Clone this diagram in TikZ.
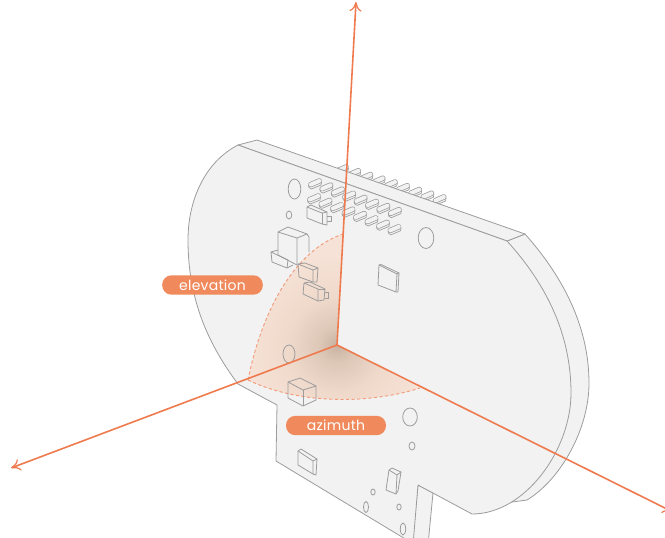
\documentclass[tikz,border=0pt]{standalone}
\usepackage{fontspec}
\setmainfont[LetterSpace=2]{Poppins}
\usetikzlibrary{arrows.meta}
\definecolor{axis}{HTML}{EE7A4E}
\definecolor{pill}{HTML}{F08A5D}
\definecolor{board}{HTML}{F2F2F2}
\definecolor{edgeg}{HTML}{9C9C9C}
\definecolor{secl}{HTML}{F6E2D6}
\definecolor{secm}{HTML}{EFD9CB}
\definecolor{secn}{HTML}{DDC7B7}
\definecolor{secd}{HTML}{C8B3A2}
\pgfdeclareradialshading{sect}{\pgfpoint{0bp}{0bp}}{color(0bp)=(secd); color(3bp)=(secn); color(8bp)=(secm); color(15bp)=(secl); color(50bp)=(secl)}
\tikzset{
 ln/.style={draw=edgeg,line width=0.6pt,line join=round},
 part/.style={ln,fill=board},
 ax/.style={draw=axis,line width=1.2pt},
 axarrow/.style={ax,-{To[length=7pt,width=9pt,line width=0.9pt]}},
 pillnode/.style={fill=pill,rounded corners=7pt,text=white,inner sep=0pt,minimum height=14.5pt,font=\fontsize{10.5}{12}\selectfont,align=center},
 arcd/.style={draw=axis!75,line width=0.7pt,dash pattern=on 2.4pt off 1.8pt},
 pinbody/.style={draw=edgeg,line width=0.55pt,double=board,double distance=3pt,line cap=round}
}
\newcommand{\pinat}[2]{%
 \draw[ln,line width=0.5pt,line cap=round,fill=board] (#1-6.5,#2+2) -- (#1-6,#2+4.5) -- (#1-3.5,#2+6) -- (#1+6,#2+2) -- (#1+6.5,#2-1);
 \draw[pinbody] (#1-4.2,#2+1.6) -- (#1+4.2,#2-2);
}
\begin{document}
\begin{tikzpicture}[x=0.75pt,y=-0.75pt]
\useasboundingbox (0,0) rectangle (665,537);
\clip (0,0) rectangle (665,537);
% back side band
\path[part] (507,241) -- (525,234) .. controls (566,280) and (589,330) .. (589,383) .. controls (589,430) and (560,480) .. (527,500) -- (490,505) -- cycle;
% stem side
\path[part] (418,485) -- (433,493) -- (428,545) -- (412,545) -- cycle;
% top pins behind the board edge
\foreach \i in {0,...,8}{
 \pgfmathsetmacro{\px}{342+\i*12.2}
 \pgfmathsetmacro{\py}{169+\i*3.75}
 \pinat{\px}{\py}
}
% top strip and front face
\path[part] (238,145) -- (257,140) -- (525,234) -- (507,241) -- cycle;
\path[part] (238,145) -- (507,241) .. controls (547,285) and (571,335) .. (571,393) .. controls (571,450) and (525,514) .. (472,514)
 -- (418,485) -- (413,545) -- (412,543) -- (276,461) -- (277,405) -- (238,384) .. controls (205,340) and (188,295) .. (188,240) .. controls (188,200) and (205,162) .. (238,145) -- cycle;
% holes
\draw[ln] (294.5,189) ellipse (6.3 and 10);
\draw[ln] (289,215) ellipse (2.8 and 4);
\draw[ln] (426,238) ellipse (7.8 and 10.5);
\draw[ln] (410,417) ellipse (7.3 and 9);
\draw[ln] (412,446) ellipse (3 and 4);
\draw[ln] (373,492) ellipse (2.2 and 3);
\draw[ln] (399,507) ellipse (2.2 and 3);
\draw[ln] (366,507) ellipse (2.5 and 5.5);
\draw[ln] (403,529) ellipse (2.7 and 6);
% sector
\begin{scope}
\clip (337,345) -- (248,380) .. controls (262,310) and (295,250) .. (343,234) -- cycle;
\shade[shading=sect] (337,345) circle (150);
\end{scope}
\begin{scope}
\clip (337,345) -- (248,380) .. controls (300,405) and (370,404) .. (420,388) -- cycle;
\shade[shading=sect] (337,345) circle (150);
\end{scope}
\draw[arcd] (248,380) .. controls (262,310) and (295,250) .. (343,234);
\draw[arcd] (248,380) .. controls (300,405) and (370,404) .. (420,388);
\draw[ln] (289,354) ellipse (6 and 9);
% header pins
\foreach \i in {0,...,7}{
 \pgfmathsetmacro{\px}{315+\i*11.4}
 \pgfmathsetmacro{\py}{183+\i*4.1}
 \pinat{\px}{\py}
 \pgfmathsetmacro{\qx}{314+\i*11.5}
 \pgfmathsetmacro{\qy}{198+\i*4.4}
 \pinat{\qx}{\qy}
}
% small connector upper
\path[part] (307,207) -- (311,205) -- (327,212) -- (327,225) -- (322,224) -- (307,218) -- cycle;
\draw[ln] (307,207) -- (322,213) -- (327,212);
\draw[ln] (322,213) -- (322,224);
\draw[ln] (327,216) -- (331,216) -- (331,221) -- (327,221);
% large relay
\draw[ln] (278,232) -- (288,227) -- (307,234) -- (309,237) -- (309,252);
\draw[ln] (278,232) -- (278,255) -- (295,264) -- (297,265);
\draw[ln] (278,232) -- (297,238) -- (297,265);
\draw[ln] (297,238) -- (307,234);
\draw[ln] (278,250) -- (271,252) -- (272,262) -- (287,268) -- (293,265);
\draw[ln] (271,252) -- (288,260) -- (287,268);
% components on the sector
\draw[ln] (298,264) -- (305,263) -- (318,268) -- (317,282) -- (313,282) -- (299,277) -- cycle;
\draw[ln] (298,264) -- (313,270) -- (313,282);
\draw[ln] (313,270) -- (318,268);
\draw[ln] (304,283) -- (310,282) -- (325,289) -- (324,300) -- (318,301) -- (303,294) -- cycle;
\draw[ln] (304,283) -- (318,289) -- (318,301);
\draw[ln] (318,289) -- (325,289);
\draw[ln] (325,292) -- (328,292) -- (328,298) -- (325,298);
% square chip
\draw[ln] (379,265) -- (397,274) -- (396,292) -- (378,285) -- cycle;
\draw[ln] (397,274) -- (399,273) -- (398,292) -- (396,292);
\draw[ln] (379,265) -- (381,264.5) -- (399,273);
% cube
\draw[ln] (288,382) -- (300,378) -- (316,386) -- (316,400) -- (303,406) -- (288,398) -- cycle;
\draw[ln] (288,382) -- (303,390) -- (316,386);
\draw[ln] (303,390) -- (303,406);
% lower parts
\draw[ln] (298,451) -- (301,449) -- (317,459) -- (316,475) -- (313,474) -- (298,465) -- cycle;
\draw[ln] (298,451) -- (313,461) -- (313,474);
\draw[ln] (313,461) -- (317,459);
\draw[ln] (389,470) -- (392,468) -- (401,472) -- (398,491) -- (396,494) -- (386,490) -- cycle;
\draw[ln] (389,470) -- (397,475) -- (396,494);
\draw[ln] (397,475) -- (401,472);
% axes
\coordinate (o) at (337,345);
\coordinate (up) at (356,2);
\coordinate (lf) at (11,468);
\coordinate (rt) at (672,511.5);
\draw[axarrow] (o) -- (up);
\draw[axarrow] (o) -- (lf);
\draw[axarrow] (o) -- (rt);
% labels
\node[pillnode,minimum width=75.5pt] (el) at (212.5,285) {elevation};
\node[pillnode,minimum width=75pt] (az) at (336,425.5) {azimuth};
\end{tikzpicture}
\end{document}
